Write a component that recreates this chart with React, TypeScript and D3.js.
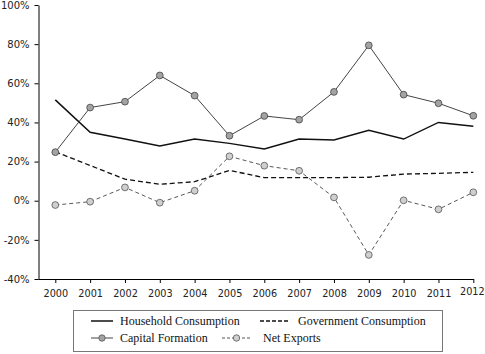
import { useEffect, useRef } from 'react';
import * as d3 from 'd3';

const years = ['2000', '2001', '2002', '2003', '2004', '2005', '2006', '2007', '2008', '2009', '2010', '2011', '2012'];
const household = [51.5, 35, 31.5, 28, 31.5, 29.3, 26.4, 31.5, 31, 36, 31.5, 40, 38];
const government = [25, 18, 11, 8.4, 9.7, 15.5, 11.8, 11.8, 11.8, 12, 13.6, 14, 14.5];
const capital = [24.8, 47.6, 50.6, 64, 53.7, 33.2, 43.3, 41.4, 55.6, 79.4, 54.2, 49.8, 43.4];
const netExports = [-2.2, -0.5, 6.8, -1, 5.1, 22.7, 17.9, 15.3, 1.7, -27.7, 0.2, -4.4, 4.3];
const yTicks = [-40, -20, 0, 20, 40, 60, 80, 100];

const W = 485;
const H = 354;

export default function App() {
  const svgRef = useRef<SVGSVGElement>(null);

  useEffect(() => {
    if (!svgRef.current) return;
    const svg = d3.select(svgRef.current);
    svg.selectAll('*').remove();

    const axisX = 38.5;
    const axisY = 279;
    const x = d3.scalePoint().domain(years).range([55.3, 473.3]);
    const y = d3.scaleLinear().domain([-40, 100]).range([axisY, 5]);

    // y axis
    const yAxis = svg
      .append('g')
      .attr('transform', `translate(${axisX},0)`)
      .call(d3.axisLeft(y).tickValues(yTicks).tickSize(4).tickSizeOuter(0).tickPadding(5).tickFormat((d) => `${d}%`));
    yAxis.select('.domain').attr('stroke', '#000').attr('stroke-width', 1);
    yAxis.selectAll('text').attr('font-family', 'DejaVu Sans').attr('font-size', 10).attr('fill', '#222');

    // x axis
    const xAxis = svg
      .append('g')
      .attr('transform', `translate(0,${axisY})`)
      .call(d3.axisBottom(x).tickSize(4).tickSizeOuter(0).tickPadding(7));
    xAxis.select('.domain').remove();
    xAxis.selectAll('text').attr('font-family', 'DejaVu Sans').attr('font-size', 9.7).attr('fill', '#222');
    // last label sits a little left and higher, as in the original
    xAxis
      .selectAll<SVGTextElement, string>('text')
      .filter((d) => d === '2012')
      .attr('dx', -1.5)
      .attr('y', 9.5);
    svg
      .append('line')
      .attr('x1', axisX)
      .attr('x2', x('2012')! + 0.5)
      .attr('y1', axisY + 0.5)
      .attr('y2', axisY + 0.5)
      .attr('stroke', '#000');

    const line = d3
      .line<number>()
      .x((_, i) => x(years[i])!)
      .y((d) => y(d));

    // Government Consumption
    svg
      .append('path')
      .attr('d', line(government))
      .attr('fill', 'none')
      .attr('stroke', '#111')
      .attr('stroke-width', 1.3)
      .attr('stroke-dasharray', '5,3');

    // Household Consumption
    svg
      .append('path')
      .attr('d', line(household))
      .attr('fill', 'none')
      .attr('stroke', '#111')
      .attr('stroke-width', 1.5);

    // Net Exports
    svg
      .append('path')
      .attr('d', line(netExports))
      .attr('fill', 'none')
      .attr('stroke', '#444')
      .attr('stroke-width', 0.9)
      .attr('stroke-dasharray', '4,3');

    // Capital Formation
    svg
      .append('path')
      .attr('d', line(capital))
      .attr('fill', 'none')
      .attr('stroke', '#444')
      .attr('stroke-width', 1);

    svg
      .append('g')
      .selectAll('circle')
      .data(netExports)
      .join('circle')
      .attr('cx', (_, i) => x(years[i])!)
      .attr('cy', (d) => y(d))
      .attr('r', 3.4)
      .attr('fill', '#cfcfcf')
      .attr('stroke', '#555')
      .attr('stroke-width', 0.8);

    svg
      .append('g')
      .selectAll('circle')
      .data(capital)
      .join('circle')
      .attr('cx', (_, i) => x(years[i])!)
      .attr('cy', (d) => y(d))
      .attr('r', 3.4)
      .attr('fill', '#a3a3a3')
      .attr('stroke', '#444')
      .attr('stroke-width', 0.8);

    // Legend
    const legend = svg.append('g');
    legend
      .append('rect')
      .attr('x', 73.5)
      .attr('y', 310.5)
      .attr('width', 369)
      .attr('height', 41)
      .attr('fill', '#fff')
      .attr('stroke', '#777')
      .attr('stroke-width', 1);

    const items = [
      { label: 'Household Consumption', x0: 91, x1: 113, tx: 120, ty: 321, stroke: '#111', width: 1.5, dash: null, marker: null },
      { label: 'Government Consumption', x0: 260, x1: 288, tx: 298, ty: 321, stroke: '#111', width: 1.3, dash: '4,2', marker: null },
      { label: 'Capital Formation', x0: 91, x1: 113, tx: 120, ty: 338, stroke: '#444', width: 1, dash: null, marker: '#a3a3a3' },
      { label: 'Net Exports', x0: 222, x1: 251, tx: 263, ty: 338, stroke: '#444', width: 0.9, dash: '3,2', marker: '#cfcfcf' },
    ];
    items.forEach((it) => {
      const ln = legend
        .append('line')
        .attr('x1', it.x0)
        .attr('x2', it.x1)
        .attr('y1', it.ty)
        .attr('y2', it.ty)
        .attr('stroke', it.stroke)
        .attr('stroke-width', it.width);
      if (it.dash) ln.attr('stroke-dasharray', it.dash);
      if (it.marker) {
        legend
          .append('circle')
          .attr('cx', (it.x0 + it.x1) / 2)
          .attr('cy', it.ty)
          .attr('r', 3.2)
          .attr('fill', it.marker)
          .attr('stroke', '#555')
          .attr('stroke-width', 0.8);
      }
      legend
        .append('text')
        .attr('x', it.tx)
        .attr('y', it.ty)
        .attr('dy', '0.35em')
        .attr('font-family', 'Liberation Serif')
        .attr('font-size', 12)
        .attr('fill', '#111')
        .text(it.label);
    });
  }, []);

  return (
    <svg
      ref={svgRef}
      width={W}
      height={H}
      style={{ position: 'absolute', left: 0, top: 0, background: '#fff' }}
    />
  );
}
